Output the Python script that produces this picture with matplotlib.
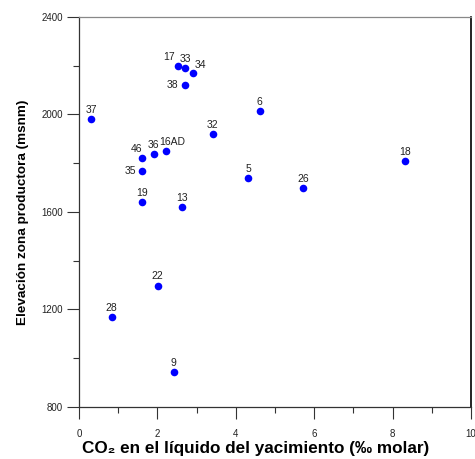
import matplotlib
matplotlib.use("Agg")
import matplotlib.pyplot as plt
from matplotlib.ticker import MultipleLocator

# well labels, CO2 content (per mil molar) and production zone elevation (masl)
wells = ["17", "33", "34", "38", "37", "6", "32", "46", "36", "16AD",
         "35", "5", "19", "13", "22", "28", "9", "18", "26"]
co2 = [2.52, 2.71, 2.92, 2.71, 0.31, 4.61, 3.41, 1.62, 1.91, 2.21,
       1.62, 4.32, 1.62, 2.62, 2.01, 0.83, 2.42, 8.31, 5.71]
elev = [2200, 2190, 2170, 2120, 1980, 2015, 1919, 1820, 1839, 1849,
        1770, 1740, 1640, 1619, 1298, 1168, 942, 1809, 1699]

# label offsets in points (dx, dy) - most labels sit above the marker
offsets = {"17": (-6, 3), "34": (5, 2), "38": (-9, -3), "35": (-9, -3),
           "46": (-4, 3), "16AD": (5, 3)}

plt.rcParams['font.family'] = ['Liberation Sans', 'DejaVu Sans']

fig = plt.figure(figsize=(4.75, 4.59), dpi=100)
ax = fig.add_axes([0.1663, 0.1133, 0.8253, 0.8497])

ax.scatter(co2, elev, s=30, color="#0000ff", zorder=3, linewidths=0)

for name, x, y in zip(wells, co2, elev):
    dx, dy = offsets.get(name, (0, 3))
    if dy < 0:
        ax.annotate(name, (x, y), xytext=(dx, 0), textcoords="offset points",
                    ha="center", va="center", fontsize=7.5, color="#222222")
    else:
        ax.annotate(name, (x, y), xytext=(dx, dy), textcoords="offset points",
                    ha="center", va="bottom", fontsize=7.5, color="#222222")

ax.set_xlim(0, 10)
ax.set_ylim(800, 2400)
ax.xaxis.set_major_locator(MultipleLocator(2))
ax.xaxis.set_minor_locator(MultipleLocator(1))
ax.yaxis.set_major_locator(MultipleLocator(400))
ax.yaxis.set_minor_locator(MultipleLocator(200))

ax.tick_params(which="major", length=8.5, width=0.8, color="#333333",
               labelsize=7, labelcolor="#222222")
ax.tick_params(axis="x", which="major", pad=7)
ax.tick_params(axis="y", which="major", pad=3)
ax.tick_params(which="minor", length=4.5, width=0.8, color="#333333")

for side in ["left", "bottom"]:
    ax.spines[side].set_color("#333333")
    ax.spines[side].set_linewidth(0.9)
ax.spines["top"].set_color("#888888")
ax.spines["top"].set_linewidth(0.9)
ax.spines["right"].set_color("black")
ax.spines["right"].set_linewidth(1.2)

ax.set_xlabel("CO\u2082 en el líquido del yacimiento (‰ molar)",
              fontsize=12.3, fontweight="bold", labelpad=0)
ax.xaxis.set_label_coords(0.45, -0.086)
ax.set_ylabel("Elevación zona productora (msnm)", fontsize=9.7,
              fontweight="bold", labelpad=9)

fig.savefig("out.png", dpi=100)
